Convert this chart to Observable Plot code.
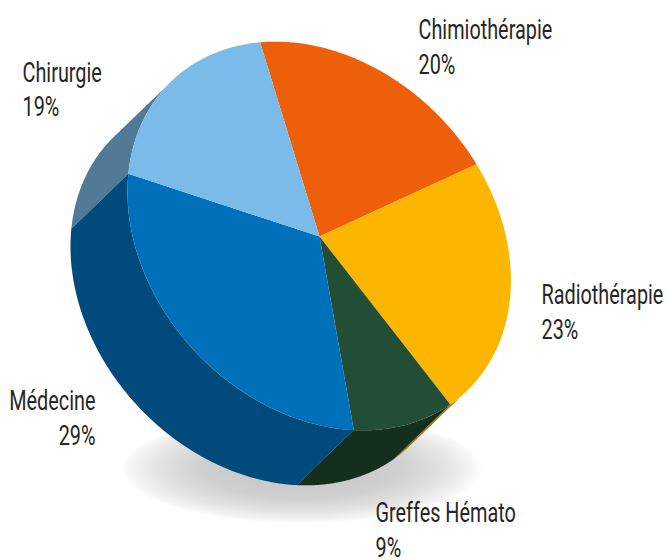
<!DOCTYPE html>
<html><head><meta charset="utf-8">
<script src="https://cdn.jsdelivr.net/npm/d3@7"></script>
<script src="https://cdn.jsdelivr.net/npm/@observablehq/plot@0.6"></script>
<style>html,body{margin:0;padding:0;background:#fff}svg{display:block}</style>
</head><body><div id="chart"></div>
<script>
const categories = ["Chimiothérapie","Radiothérapie","Greffes Hémato","Médecine","Chirurgie"];
const values = [20.3,22.7,9.1,29.4,18.5];
const topColors = ["#ee5f0b","#fdb600","#224e36","#0070bb","#7abbe9"];
const wallColors = ["#b0470a","#a87c00","#142f1d","#004a7c","#507a96"];

// projection of the tilted disc
const C = {x:318.7,y:235.5}, A = 214, B = 169.5, TILT = 46.7*Math.PI/180;
const DEPTH = {x:-57,y:55}, START = 148;
const M = {x:Math.cos(TILT),y:Math.sin(TILT)}, N = {x:Math.sin(TILT),y:-Math.cos(TILT)};
const pt = (deg,off=0) => {
  const t = deg*Math.PI/180, u = A*Math.cos(t), v = B*Math.sin(t);
  return {x:C.x+u*M.x+v*N.x+off*DEPTH.x, y:C.y+u*M.y+v*N.y+off*DEPTH.y};
};
const slices = []; let acc = START;
values.forEach((v,i)=>{const a0=acc,a1=acc-v*3.6;acc=a1;slices.push({i,a0,a1});});
const arc = (a0,a1,off) => d3.range(0,121).map(k=>pt(a0+(a1-a0)*k/120,off));

// the side wall is visible only between the two silhouette tangents of the extrusion
const du = DEPTH.x*M.x+DEPTH.y*M.y, dv = DEPTH.x*N.x+DEPTH.y*N.y;
const T = Math.atan2(-B*du, -A*dv)*180/Math.PI;

const tops = slices.flatMap(s=>[{x:319,y:236},...arc(s.a0,s.a1,0)].map(p=>({...p,fill:topColors[s.i]})));
const wallOrder = [4,1,2,3];
const walls = wallOrder.flatMap(i=>{const s=slices[i];
  const hi=Math.min(s.a0,T), lo=Math.max(s.a1,T-180);
  return [...arc(hi,lo,0),...arc(lo,hi,1)].map(p=>({...p,fill:wallColors[i]}));});
const shadow = d3.range(0,181).map(k=>{const t=k*2*Math.PI/180;
  return {x:301+181*Math.cos(t),y:468+55*Math.sin(t)};});

const labelRows = categories.map((c,i)=>({text:`${c}\n${Math.round(values[i])}%`,name:c}));
const where = {"Chimiothérapie":[418,45],"Radiothérapie":[541,310],"Greffes Hémato":[375,528],"Médecine":[95,416],"Chirurgie":[22,87.5]};
const txt = {lineHeight:1.28,fontSize:27,fill:"#262626",fontFamily:"Roboto,sans-serif",frameAnchor:"middle"};

const svg = Plot.plot({
  width:668,height:560,margin:0,
  x:{domain:[0,668],range:[0,668],axis:null},
  y:{domain:[0,560],range:[0,560],axis:null},
  color:{type:"identity"},
  marks:[
    Plot.line(shadow,{x:"x",y:"y",fill:"url(#shadow)",curve:"linear"}),
    Plot.line(walls,{x:"x",y:"y",fill:"fill",z:"fill",curve:"linear"}),
    Plot.line(tops,{x:"x",y:"y",fill:"fill",z:"fill",curve:"linear"}),
    Plot.text(labelRows.filter(d=>d.name!=="Médecine"),{...txt,text:"text",textAnchor:"start",x:d=>where[d.name][0],y:d=>where[d.name][1],className:"cond"}),
    Plot.text(labelRows.filter(d=>d.name==="Médecine"),{...txt,text:"text",textAnchor:"end",x:d=>where[d.name][0],y:d=>where[d.name][1],className:"cond"})
  ]
});
const defs = d3.create("svg:defs");
const g = defs.append("radialGradient").attr("id","shadow");
[[0,"#c2c2c2"],[0.55,"#d0d0d0"],[0.8,"#e4e4e4"],[0.95,"#f6f6f6"],[1,"#ffffff"]].forEach(([o,c])=>
  g.append("stop").attr("offset",o).attr("stop-color",c));
svg.prepend(defs.node());
// the labels use a condensed face: narrow each label horizontally
svg.querySelectorAll(".cond text").forEach(t=>{
  t.setAttribute("transform",(t.getAttribute("transform")||"")+" scale(0.735,1)");
});
document.getElementById("chart").append(svg);
</script></body></html>
